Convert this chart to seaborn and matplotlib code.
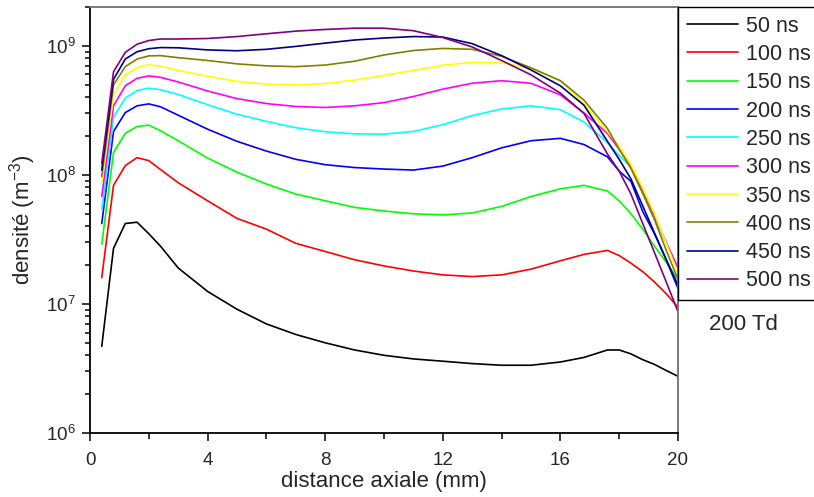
import matplotlib
matplotlib.use("Agg")
import matplotlib.pyplot as plt
import numpy as np
import pandas as pd
import seaborn as sns
from matplotlib.ticker import LogLocator, MultipleLocator, NullFormatter

# distance axiale (mm)
x_mm = [0.4, 0.8, 1.2, 1.6, 2.0, 2.4, 3.0, 4.0, 5.0, 6.0, 7.0, 8.0, 9.0, 10.0,
        11.0, 12.0, 13.0, 14.0, 15.0, 16.0, 16.8, 17.6, 18.0, 18.4, 18.8, 19.2, 19.6, 20.0]

# densite (m^-3), une liste par instant
d_50 = [4.7e6, 2.7e7, 4.2e7, 4.3e7, 3.5e7, 2.8e7, 1.9e7, 1.25e7, 9.1e6, 7.0e6, 5.8e6, 5.0e6, 4.4e6, 4.0e6,
        3.75e6, 3.6e6, 3.45e6, 3.35e6, 3.35e6, 3.55e6, 3.85e6, 4.4e6, 4.4e6, 4.1e6, 3.7e6, 3.4e6, 3.05e6, 2.75e6]
d_100 = [1.6e7, 8.3e7, 1.18e8, 1.36e8, 1.29e8, 1.1e8, 8.7e7, 6.3e7, 4.6e7, 3.8e7, 2.95e7, 2.55e7, 2.2e7, 1.97e7,
         1.8e7, 1.68e7, 1.63e7, 1.68e7, 1.86e7, 2.16e7, 2.42e7, 2.6e7, 2.37e7, 2.07e7, 1.78e7, 1.48e7, 1.2e7, 9.4e6]
d_150 = [2.9e7, 1.49e8, 2.1e8, 2.37e8, 2.43e8, 2.2e8, 1.84e8, 1.35e8, 1.05e8, 8.5e7, 7.1e7, 6.3e7, 5.6e7, 5.25e7,
         5.0e7, 4.9e7, 5.07e7, 5.7e7, 6.8e7, 7.8e7, 8.3e7, 7.5e7, 6.3e7, 5.0e7, 3.8e7, 2.8e7, 2.1e7, 1.55e7]
d_200 = [4.2e7, 2.17e8, 3.04e8, 3.43e8, 3.55e8, 3.37e8, 2.9e8, 2.26e8, 1.82e8, 1.53e8, 1.32e8, 1.2e8, 1.14e8, 1.11e8,
         1.09e8, 1.17e8, 1.36e8, 1.62e8, 1.84e8, 1.92e8, 1.72e8, 1.38e8, 1.07e8, 8.9e7, 5.2e7, 3.5e7, 2.2e7, 1.4e7]
d_250 = [5.4e7, 2.8e8, 3.94e8, 4.5e8, 4.7e8, 4.57e8, 4.2e8, 3.5e8, 2.95e8, 2.6e8, 2.32e8, 2.16e8, 2.08e8, 2.07e8,
         2.17e8, 2.45e8, 2.88e8, 3.24e8, 3.43e8, 3.2e8, 2.57e8, 1.78e8, 1.41e8, 1.15e8, 7.2e7, 4.6e7, 2.95e7, 1.86e7]
d_300 = [6.8e7, 3.43e8, 4.9e8, 5.6e8, 5.85e8, 5.7e8, 5.25e8, 4.47e8, 3.9e8, 3.57e8, 3.39e8, 3.33e8, 3.43e8, 3.63e8,
         4.05e8, 4.62e8, 5.13e8, 5.37e8, 5.13e8, 4.17e8, 3.02e8, 2.09e8, 1.58e8, 1.17e8, 7.6e7, 4.8e7, 3.0e7, 1.9e7]
d_350 = [8.6e7, 4.17e8, 5.96e8, 6.8e8, 7.13e8, 6.95e8, 6.46e8, 5.82e8, 5.3e8, 5.05e8, 4.99e8, 5.1e8, 5.43e8, 5.9e8,
         6.44e8, 7.08e8, 7.45e8, 7.4e8, 6.68e8, 5.37e8, 3.55e8, 2.16e8, 1.66e8, 1.2e8, 7.9e7, 5.0e7, 2.95e7, 1.74e7]
d_400 = [9.7e7, 4.99e8, 6.9e8, 7.9e8, 8.36e8, 8.4e8, 8.1e8, 7.7e8, 7.25e8, 7.0e8, 6.9e8, 7.1e8, 7.6e8, 8.5e8,
         9.2e8, 9.55e8, 9.4e8, 8.3e8, 6.76e8, 5.37e8, 3.8e8, 2.29e8, 1.58e8, 1.12e8, 7.2e7, 4.5e7, 2.6e7, 1.55e7]
d_450 = [1.09e8, 5.5e8, 7.9e8, 9.0e8, 9.5e8, 9.7e8, 9.66e8, 9.3e8, 9.16e8, 9.4e8, 9.9e8, 1.05e9, 1.11e9, 1.15e9,
         1.18e9, 1.17e9, 1.04e9, 8.4e8, 6.5e8, 4.9e8, 3.47e8, 1.82e8, 1.32e8, 9.3e7, 5.75e7, 3.55e7, 2.2e7, 1.32e7]
d_500 = [1.23e8, 6.3e8, 8.9e8, 1.03e9, 1.1e9, 1.13e9, 1.13e9, 1.14e9, 1.18e9, 1.24e9, 1.3e9, 1.34e9, 1.37e9, 1.37e9,
         1.31e9, 1.16e9, 9.8e8, 7.7e8, 5.96e8, 4.3e8, 3.0e8, 1.45e8, 1.07e8, 7.1e7, 4.2e7, 2.5e7, 1.48e7, 8.7e6]

labels = ["50 ns", "100 ns", "150 ns", "200 ns", "250 ns", "300 ns", "350 ns", "400 ns", "450 ns", "500 ns"]
series = [d_50, d_100, d_150, d_200, d_250, d_300, d_350, d_400, d_450, d_500]
couleurs = ["#000000", "#FF0000", "#00FF00", "#0000FF", "#00FFFF",
            "#FF00FF", "#FFFF00", "#808000", "#000080", "#800080"]

rows = []
for lab, vals in zip(labels, series):
    for xv, yv in zip(x_mm, vals):
        rows.append({"x": xv, "densite": yv, "temps": lab})
df = pd.DataFrame(rows)

sns.set_style("ticks")
plt.rcParams["font.family"] = ["Liberation Sans", "DejaVu Sans"]
plt.rcParams["mathtext.fontset"] = "custom"
plt.rcParams["mathtext.rm"] = "Liberation Sans"
plt.rcParams["mathtext.it"] = "Liberation Sans:italic"

W, H = 814, 497
fig = plt.figure(figsize=(W / 100, H / 100), dpi=100)
ax = fig.add_axes([90 / W, 1 - 433 / H, (678 - 90) / W, (433 - 7) / H])

sns.lineplot(data=df, x="x", y="densite", hue="temps", hue_order=labels,
             palette=couleurs, estimator=None, sort=False, linewidth=1.2, ax=ax)

ax.set_yscale("log")
ax.set_xlim(0, 20)
ax.set_ylim(1e6, 2.0e9)
ax.xaxis.set_major_locator(MultipleLocator(4))
ax.xaxis.set_minor_locator(MultipleLocator(2))
ax.yaxis.set_major_locator(LogLocator(base=10, numticks=10))
ax.yaxis.set_minor_locator(LogLocator(base=10, subs=np.arange(2, 10), numticks=20))
ax.yaxis.set_minor_formatter(NullFormatter())

ax.tick_params(axis="both", which="major", direction="out", length=6, width=1.1,
               labelsize=13.5, color="black")
ax.tick_params(axis="x", which="major", pad=8)
ax.tick_params(axis="y", which="major", pad=4)
ax.tick_params(axis="both", which="minor", direction="out", length=3.5, width=1.1, color="black")
ax.tick_params(axis="x", which="minor", length=4)

for s in ["left", "bottom"]:
    ax.spines[s].set_color("black")
    ax.spines[s].set_linewidth(1.3)
for s in ["top", "right"]:
    ax.spines[s].set_color("#707070")
    ax.spines[s].set_linewidth(1.3)

ax.set_xlabel("distance axiale (mm)", fontsize=16, labelpad=1)
ax.set_ylabel(r"densité (m$^{\mathregular{-3}}$)", fontsize=16, labelpad=6)

handles, labs = ax.get_legend_handles_labels()
ax.legend(handles, labs, loc="upper left", bbox_to_anchor=(678 / W, 1 - 7 / H),
          bbox_transform=fig.transFigure, frameon=True, fancybox=False,
          edgecolor="black", framealpha=1, borderaxespad=0, fontsize=15.5,
          handlelength=2.4, handletextpad=0.35, labelspacing=0.34, borderpad=0.4)

fig.text(743 / W, 1 - 325 / H, "200 Td", fontsize=16, ha="center", va="center")

fig.savefig("out.png", dpi=100)
